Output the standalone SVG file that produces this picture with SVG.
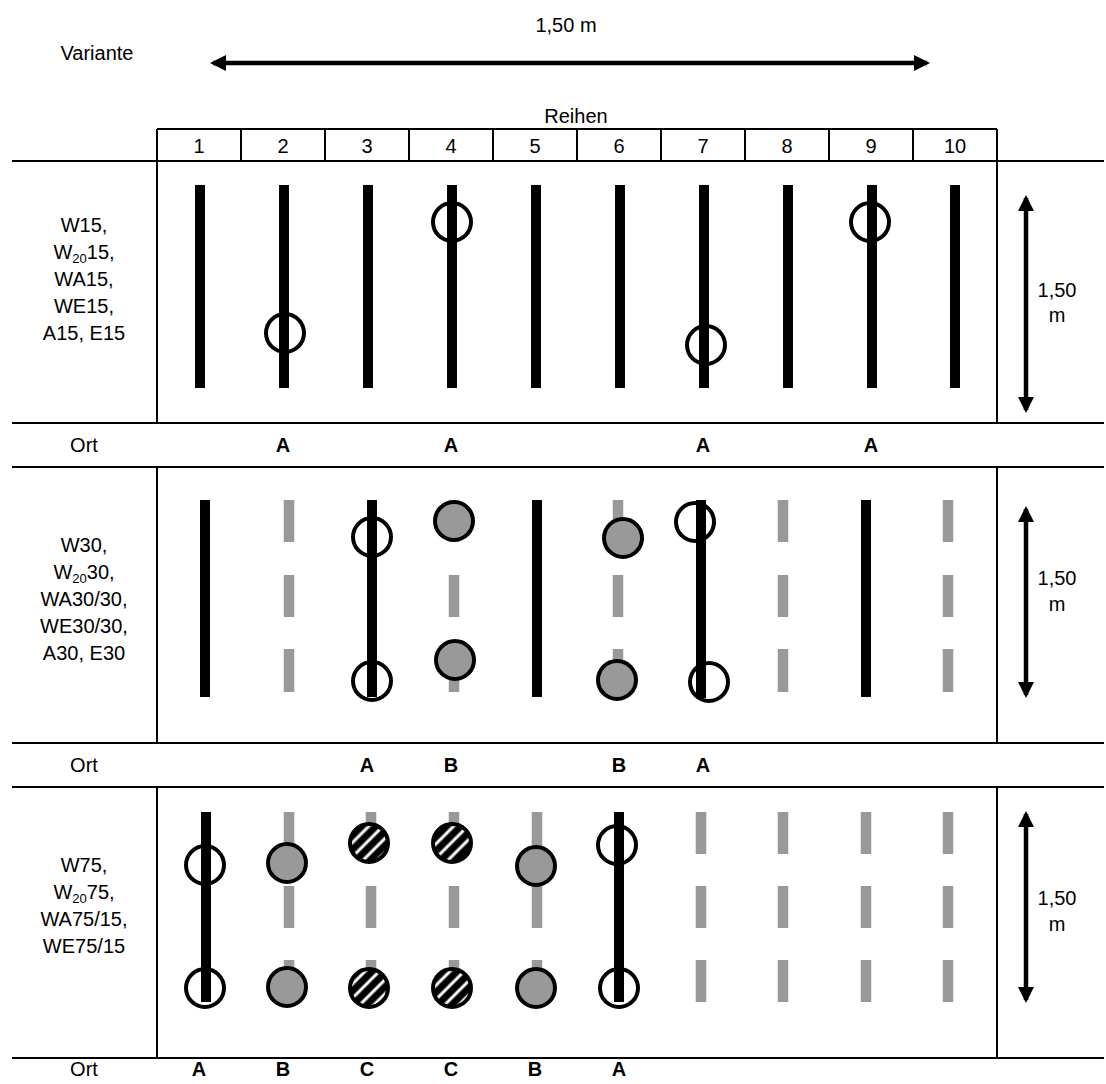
<svg xmlns="http://www.w3.org/2000/svg" width="1106" height="1084" viewBox="0 0 1106 1084">
<style>
text{font-family:"Liberation Sans",Arial,sans-serif;font-size:20px;fill:#000;text-anchor:middle}
.b{font-weight:bold}
.sub{font-size:13px}
.tl{stroke:#000;stroke-width:2;fill:none}
.bar{stroke:#000;stroke-width:10}
.dash{stroke:#999;stroke-width:10.5}
.oc{fill:none;stroke:#000;stroke-width:4}
.gc{fill:#999;stroke:#000;stroke-width:4}
.hc{fill:url(#hatch);stroke:#000;stroke-width:4}
.arr{stroke:#000;stroke-width:4.5;marker-start:url(#ah);marker-end:url(#ah)}
</style>
<defs>
<marker id="ah" viewBox="0 0 16 16" refX="13" refY="8" markerWidth="16" markerHeight="16" markerUnits="userSpaceOnUse" orient="auto-start-reverse">
<path d="M0,0 L16,8 L0,16 Z" fill="#000"/>
</marker>
<pattern id="hatch" patternUnits="userSpaceOnUse" width="10" height="10" patternTransform="rotate(-45)">
<rect width="10" height="10" fill="#000"/>
<rect y="3.5" width="10" height="3" fill="#fff"/>
</pattern>
</defs>

<g id="header">
<text x="566" y="32">1,50 m</text>
<text x="97" y="60">Variante</text>
<text x="576" y="123">Reihen</text>
<g id="colnums">
<text x="199" y="153">1</text><text x="283" y="153">2</text><text x="367" y="153">3</text><text x="451" y="153">4</text><text x="535" y="153">5</text><text x="619" y="153">6</text><text x="703" y="153">7</text><text x="787" y="153">8</text><text x="871" y="153">9</text><text x="955" y="153">10</text>
</g>
</g>

<g id="table">
<path class="tl" d="M157,129 H997 M12,161 H1104 M12,423 H1104 M12,467 H1104 M12,743 H1104 M12,787 H1104 M12,1058 H1104"/>
<path class="tl" d="M157,129 V423 M157,467 V743 M157,787 V1058 M997,129 V423 M997,467 V743 M997,787 V1058"/>
<path class="tl" d="M241,129 V161 M325,129 V161 M409,129 V161 M493,129 V161 M577,129 V161 M661,129 V161 M745,129 V161 M829,129 V161 M913,129 V161"/>
</g>

<g id="connectors">
<line class="arr" x1="213" y1="63" x2="927" y2="63"/>
<line class="arr" x1="1026" y1="198" x2="1026" y2="410"/>
<line class="arr" x1="1026" y1="509" x2="1026" y2="695"/>
<line class="arr" x1="1026" y1="814" x2="1026" y2="1000"/>
</g>

<g id="section1">
<text x="84" y="232">W15,</text>
<text x="84" y="259">W<tspan class="sub" dy="4">20</tspan><tspan dy="-4">15,</tspan></text>
<text x="84" y="286">WA15,</text>
<text x="84" y="313">WE15,</text>
<text x="84" y="340">A15, E15</text>
<g id="s1plants">
<line class="bar" x1="200" y1="185" x2="200" y2="388"/>
<line class="bar" x1="284" y1="185" x2="284" y2="388"/>
<line class="bar" x1="368" y1="185" x2="368" y2="388"/>
<line class="bar" x1="452" y1="185" x2="452" y2="388"/>
<line class="bar" x1="536" y1="185" x2="536" y2="388"/>
<line class="bar" x1="620" y1="185" x2="620" y2="388"/>
<line class="bar" x1="704" y1="185" x2="704" y2="388"/>
<line class="bar" x1="788" y1="185" x2="788" y2="388"/>
<line class="bar" x1="872" y1="185" x2="872" y2="388"/>
<line class="bar" x1="955" y1="185" x2="955" y2="388"/>
<circle class="oc" cx="285" cy="333" r="19"/>
<circle class="oc" cx="452" cy="222" r="19"/>
<circle class="oc" cx="706" cy="345" r="19"/>
<circle class="oc" cx="870" cy="222" r="19"/>
</g>
<text x="84" y="452">Ort</text>
<text class="b" x="283" y="452">A</text><text class="b" x="451" y="452">A</text><text class="b" x="703" y="452">A</text><text class="b" x="871" y="452">A</text>
<text x="1057" y="297">1,50</text>
<text x="1057" y="322">m</text>
</g>

<g id="section2">
<text x="84" y="552">W30,</text>
<text x="84" y="579">W<tspan class="sub" dy="4">20</tspan><tspan dy="-4">30,</tspan></text>
<text x="84" y="606">WA30/30,</text>
<text x="84" y="633">WE30/30,</text>
<text x="84" y="660">A30, E30</text>
<g id="s2plants">
<line class="bar" x1="205" y1="500" x2="205" y2="697"/>
<line class="bar" x1="372" y1="500" x2="372" y2="697"/>
<line class="bar" x1="537" y1="500" x2="537" y2="697"/>
<line class="bar" x1="701" y1="500" x2="701" y2="698"/>
<line class="bar" x1="866" y1="500" x2="866" y2="697"/>
<path class="dash" d="M289,500 V542 M289,575 V617 M289,649 V692 M454,500 V542 M454,575 V617 M454,649 V692 M618,500 V542 M618,575 V617 M618,649 V692 M783,500 V542 M783,575 V617 M783,649 V692 M948,500 V542 M948,575 V617 M948,649 V692"/>
<circle class="oc" cx="372" cy="537" r="19"/>
<circle class="oc" cx="372" cy="681" r="19"/>
<circle class="gc" cx="454" cy="521" r="19"/>
<circle class="gc" cx="455" cy="660" r="19"/>
<circle class="gc" cx="623" cy="538" r="19"/>
<circle class="gc" cx="617" cy="680" r="19"/>
<circle class="oc" cx="695" cy="522" r="19"/>
<circle class="oc" cx="709" cy="682" r="19"/>
</g>
<text x="84" y="772">Ort</text>
<text class="b" x="367" y="772">A</text><text class="b" x="451" y="772">B</text><text class="b" x="619" y="772">B</text><text class="b" x="703" y="772">A</text>
<text x="1057" y="585">1,50</text>
<text x="1057" y="611">m</text>
</g>

<g id="section3">
<text x="84" y="872">W75,</text>
<text x="84" y="899">W<tspan class="sub" dy="4">20</tspan><tspan dy="-4">75,</tspan></text>
<text x="84" y="926">WA75/15,</text>
<text x="84" y="953">WE75/15</text>
<g id="s3plants">
<line class="bar" x1="206" y1="812" x2="206" y2="1002"/>
<line class="bar" x1="619" y1="812" x2="619" y2="1002"/>
<path class="dash" d="M289,812 V854 M289,886 V928 M289,960 V1002 M371,812 V854 M371,886 V928 M371,960 V1002 M454,812 V854 M454,886 V928 M454,960 V1002 M537,812 V854 M537,886 V928 M537,960 V1002 M701,812 V854 M701,886 V928 M701,960 V1002 M783,812 V854 M783,886 V928 M783,960 V1002 M866,812 V854 M866,886 V928 M866,960 V1002 M948,812 V854 M948,886 V928 M948,960 V1002"/>
<circle class="oc" cx="205" cy="865" r="19"/>
<circle class="oc" cx="205" cy="988" r="19"/>
<circle class="gc" cx="287" cy="863" r="19"/>
<circle class="gc" cx="287" cy="987" r="19"/>
<circle class="hc" cx="369" cy="843" r="19"/>
<circle class="hc" cx="369" cy="988" r="19"/>
<circle class="hc" cx="452" cy="843" r="19"/>
<circle class="hc" cx="452" cy="988" r="19"/>
<circle class="gc" cx="536" cy="866" r="19"/>
<circle class="gc" cx="536" cy="988" r="19"/>
<circle class="oc" cx="617" cy="845" r="19"/>
<circle class="oc" cx="619" cy="988" r="19"/>
</g>
<text x="84" y="1076">Ort</text>
<text class="b" x="199" y="1076">A</text><text class="b" x="283" y="1076">B</text><text class="b" x="367" y="1076">C</text><text class="b" x="451" y="1076">C</text><text class="b" x="535" y="1076">B</text><text class="b" x="619" y="1076">A</text>
<text x="1057" y="905">1,50</text>
<text x="1057" y="931">m</text>
</g>
</svg>
